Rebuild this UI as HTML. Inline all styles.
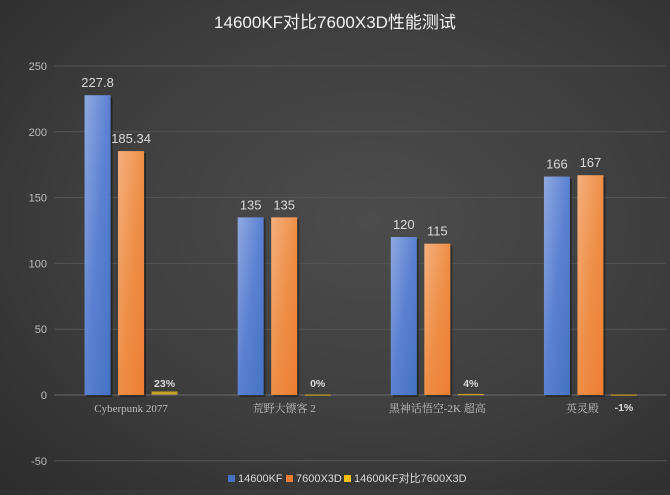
<!DOCTYPE html>
<html><head><meta charset="utf-8"><style>
html,body{margin:0;padding:0}
body{width:670px;height:490px;overflow:hidden;background:radial-gradient(ellipse at 55% 45%,#4c4c4c 0%,#3e3e3e 55%,#2c2c2c 100%);font-family:"Liberation Sans","Noto Sans CJK SC",sans-serif}
</style></head><body>
<svg id="chart" width="670" height="490" xmlns="http://www.w3.org/2000/svg">
<defs>
<linearGradient id="gb" x1="0" y1="0" x2="1" y2="1"><stop offset="0" stop-color="#8fa9e0"/><stop offset="0.5" stop-color="#5b80d2"/><stop offset="1" stop-color="#4472c4"/></linearGradient>
<linearGradient id="go" x1="0" y1="0" x2="1" y2="1"><stop offset="0" stop-color="#f5b07e"/><stop offset="0.5" stop-color="#ee8f48"/><stop offset="1" stop-color="#ed7d31"/></linearGradient>
</defs>
<text x="335" y="28" text-anchor="middle" fill="#f2f2f2" font-size="17">14600KF对比7600X3D性能测试</text>
<g id="grid"></g><g id="bars"></g>
<g font-size="11" fill="#d9d9d9">
<rect x="228" y="475" width="7" height="7" fill="#4472c4"/><text x="238" y="482">14600KF</text>
<rect x="286" y="475" width="7" height="7" fill="#ed7d31"/><text x="296" y="482">7600X3D</text>
<rect x="344" y="475" width="7" height="7" fill="#ffc000"/><text x="354" y="482">14600KF对比7600X3D</text>
</g>
</svg>
<script>
const categories=["Cyberpunk 2077","荒野大镖客 2","黑神话悟空-2K 超高","英灵殿"];
const intelValues=[227.8,135,120,166];
const amdValues=[185.34,135,115,167];
const ratioValues=[0.23,0,0.04,-0.01];
const ratioLabels=["23%","0%","4%","-1%"];
const ticks=[250,200,150,100,50,0,-50];
const NS="http://www.w3.org/2000/svg";
const x0=54.5,x1=667,yTop=66,yZero=395;
const y=v=>yZero-(v/250)*(yZero-yTop);
const bw=(x1-x0)/categories.length;
const cx=i=>x0+bw*(i+0.5);
function mk(t,a,p){const e=document.createElementNS(NS,t);for(const k in a)e.setAttribute(k,a[k]);p.appendChild(e);return e;}
const grid=document.getElementById('grid'),bars=document.getElementById('bars');
ticks.forEach(t=>{
 const l=mk('line',{x1:x0,x2:x1,y1:y(t),y2:y(t),stroke:t===0?'#6a6a6a':'#555',"stroke-width":1},grid);
 
 
 const tx=mk('text',{x:47,y:y(t)+4,"text-anchor":"end",fill:"#bfbfbf","font-size":11},grid);
 tx.textContent=t;
 
 
});
const W=26,G=7.5;
categories.forEach((c,i)=>{
 const c0=cx(i);
 const specs=[[intelValues[i],'url(#gb)','bar-14600kf',c0-W*1.5-G,String(intelValues[i])],[amdValues[i],'url(#go)','bar-7600x3d',c0-W/2,String(amdValues[i])]];
 specs.forEach(s=>{
  const top=y(Math.max(s[0],0)),h=Math.abs(y(s[0])-yZero);
  mk('rect',{x:s[3]+2,y:top+2,width:W,height:h,fill:'rgba(0,0,0,0.35)'},bars);
  const r=mk('rect',{x:s[3],y:top,width:W,height:h,fill:s[1]},bars);
  
  
  const t=mk('text',{x:s[3]+W/2,y:top-8,"text-anchor":"middle",fill:"#d9d9d9","font-size":13},bars);
  t.textContent=s[4];
  
  
 });
 const rx=c0+W/2+G,rv=ratioValues[i]*10;
 const ry=Math.min(y(rv),yZero),rh=Math.max(Math.abs(y(rv)-yZero),1.2);
 const rr=mk('rect',{x:rx,y:ry-0.5,width:W,height:rh,fill:'#c9a227'},bars);
 
 
 const neg=ratioValues[i]<0;
 const rt=mk('text',{x:rx+W/2,y:neg?yZero+16:yZero-8,"text-anchor":"middle",fill:"#d9d9d9","font-size":10.5,"font-weight":"bold"},bars);
 rt.textContent=ratioLabels[i];
 
 
 const cl=mk('text',{x:neg?c0-8:c0,y:yZero+17,"text-anchor":"middle",fill:"#bfbfbf","font-size":11,"font-family":"Liberation Serif,Noto Serif CJK SC,serif"},bars);
 cl.textContent=c;
 
 
});
</script>
</body></html>
